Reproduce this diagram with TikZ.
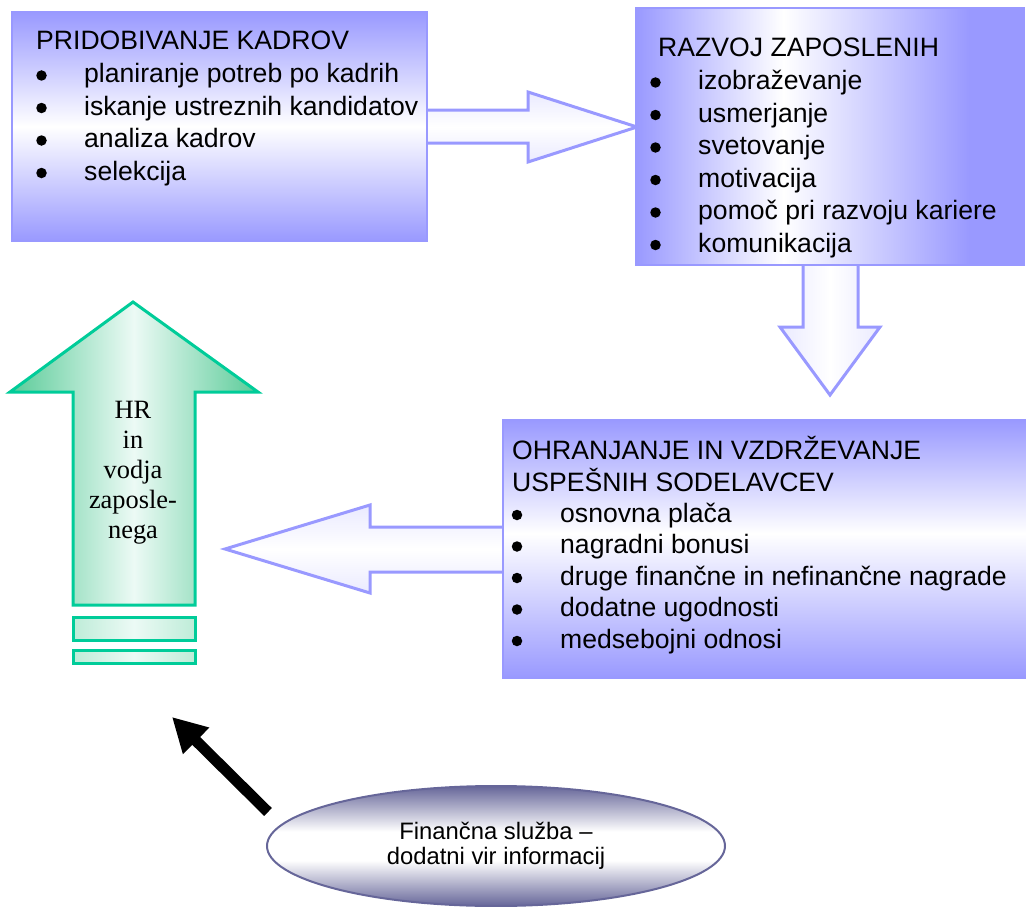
\documentclass[tikz,border=0pt]{standalone}
\usepackage{fontspec}
\setmainfont{Liberation Sans}
\newfontfamily\hrfont{Liberation Serif}
\usetikzlibrary{arrows.meta,shapes.geometric}

\definecolor{boxpurple}{RGB}{153,153,255}
\definecolor{arrowline}{RGB}{153,153,255}
\definecolor{arrowtint}{RGB}{234,234,255}
\definecolor{hrline}{RGB}{0,204,153}
\definecolor{hredge}{RGB}{90,203,152}
\definecolor{hrlight}{RGB}{236,250,245}
\definecolor{hrmid}{RGB}{190,236,216}
\definecolor{finedge}{RGB}{102,102,153}

% purple -> white -> purple, white band left of centre
\pgfdeclarehorizontalshading{razvojshade}{100bp}{color(0bp)=(boxpurple); color(25bp)=(boxpurple); color(44bp)=(white); color(68bp)=(boxpurple); color(100bp)=(boxpurple)}
% purple -> white -> purple, white band a little above centre
\pgfdeclareverticalshading{ohranshade}{100bp}{color(0bp)=(boxpurple); color(25bp)=(boxpurple); color(53bp)=(white); color(75bp)=(boxpurple); color(100bp)=(boxpurple)}
% dark rim, wide white middle band
\pgfdeclareverticalshading{finshade}{100bp}{color(0bp)=(finedge); color(25bp)=(finedge); color(44bp)=(white); color(56bp)=(white); color(75bp)=(finedge); color(100bp)=(finedge)}

\tikzset{
  box/.style={draw=boxpurple, line width=2pt, inner sep=0pt},
  blockarrow/.style={draw=arrowline, line width=3pt, line join=miter},
  hrshape/.style={draw=hrline, line width=3pt, line join=miter},
  txt/.style={font=\fontsize{26.6}{32.5}\selectfont, inner sep=0pt, anchor=base west},
  bul/.style={circle, fill=black, inner sep=0pt, minimum size=10.5pt},
  hrtxt/.style={font=\hrfont\fontsize{26.4}{30}\selectfont, inner sep=0pt, anchor=base},
}

\begin{document}
\begin{tikzpicture}[x=1pt, y=-1pt]
\useasboundingbox (0,0) rectangle (1026,907);

% ---- block arrows (drawn first, the boxes cover their shaft ends)
\path[blockarrow, top color=arrowtint, bottom color=arrowtint, middle color=white]
  (418,110) -- (528,110) -- (528,92) -- (637,127) -- (528,162) -- (528,143) -- (418,143) -- cycle;
\path[blockarrow, left color=arrowtint, right color=arrowtint, middle color=white]
  (803,255) -- (803,327) -- (780,327) -- (830,395) -- (880,327) -- (858,327) -- (858,255) -- cycle;
\path[blockarrow, top color=arrowtint, bottom color=arrowtint, middle color=white]
  (512,527) -- (370,527) -- (370,505) -- (225,549) -- (370,593) -- (370,572) -- (512,572) -- cycle;

% ---- boxes
\node[box, top color=boxpurple, bottom color=boxpurple, middle color=white,
      minimum width=415pt, minimum height=229pt] (pridob) at (219.5,126.5) {};
\node[box, shade, shading=razvojshade,
      minimum width=388pt, minimum height=257pt] (razvoj) at (830,136.5) {};
\node[box, shade, shading=ohranshade,
      minimum width=527pt, minimum height=258pt] (ohran) at (766.5,549) {};

% ---- box 1 text
\node[txt] (pridobT) at (36,50) {PRIDOBIVANJE KADROV};
\foreach \t [count=\i] in {planiranje potreb po kadrih, iskanje ustreznih kandidatov, analiza kadrov, selekcija} {
  \node[bul] (pridobB\i) at (41.5,{43+32.5*\i}) {};
  \node[txt] (pridobI\i) at (84,{50+32.5*\i}) {\t};
}

% ---- box 2 text
\node[txt] (razvojT) at (658,57) {RAZVOJ ZAPOSLENIH};
\foreach \t [count=\i] in {izobraževanje, usmerjanje, svetovanje, motivacija, pomoč pri razvoju kariere, komunikacija} {
  \node[bul] (razvojB\i) at (655.5,{50+32.5*\i}) {};
  \node[txt] (razvojI\i) at (698,{57+32.5*\i}) {\t};
}

% ---- box 3 text
\node[txt] (ohranT1) at (512,459) {OHRANJANJE IN VZDRŽEVANJE};
\node[txt] (ohranT2) at (512,491) {USPEŠNIH SODELAVCEV};
\foreach \t [count=\i] in {osnovna plača, nagradni bonusi, druge finančne in nefinančne nagrade, dodatne ugodnosti, medsebojni odnosi} {
  \node[bul] (ohranB\i) at (517,{483.5+31.5*\i}) {};
  \node[txt] (ohranI\i) at (560,{490.5+31.5*\i}) {\t};
}

% ---- green upward arrow with its two base bars
\path[hrshape, left color=hredge, right color=hredge, middle color=hrlight]
  (73,605) -- (73,392) -- (10,392) -- (133,302) -- (258,392) -- (195,392) -- (195,605) -- cycle;
\path[hrshape, left color=hrmid, right color=hrmid, middle color=hrlight]
  (73,617) rectangle (195,640);
\path[hrshape, left color=hrmid, right color=hrmid, middle color=hrlight]
  (73,650) rectangle (195,663);
\foreach \t [count=\i] in {HR, in, vodja, zaposle-, nega} {
  \node[hrtxt] (hr\i) at (133,{388+30*\i}) {\t};
}

% ---- finance ellipse
\node[ellipse, draw=finedge, line width=2pt, shade, shading=finshade,
      minimum width=458pt, minimum height=120pt, inner sep=0pt, align=center,
      font=\fontsize{23.8}{25}\selectfont] (fin) at (496,846)
  {Finančna služba –\\dodatni vir informacij};

% ---- black arrow from the ellipse towards the green arrow
\coordinate (fintail) at (268,812);
\coordinate (hrpoint) at (172,717);
\draw[line width=11pt, -{Triangle[width=35pt,length=34pt]}] (fintail) -- (hrpoint);
\end{tikzpicture}
\end{document}
